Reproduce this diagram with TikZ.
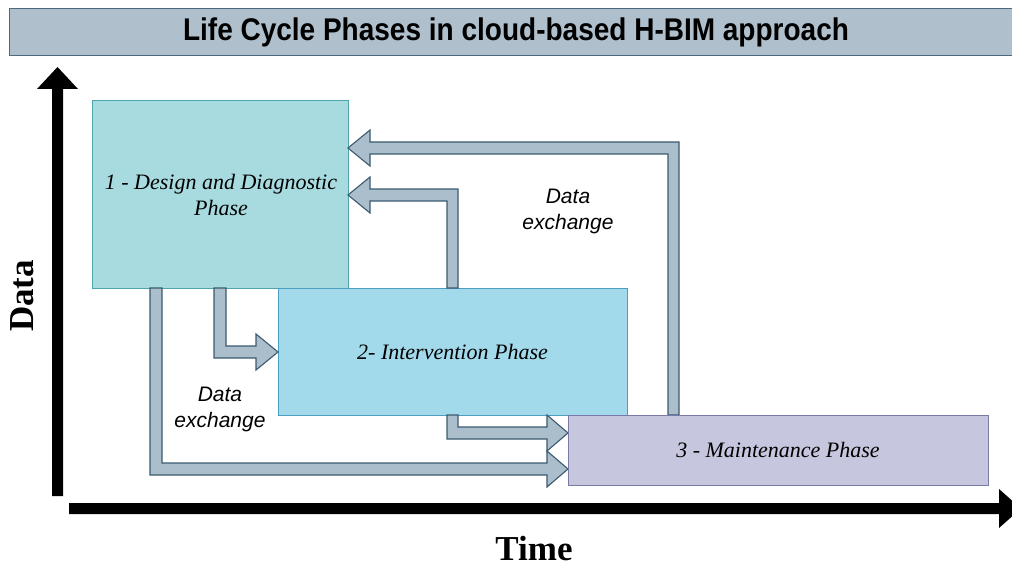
\documentclass[tikz,border=0pt]{standalone}
\usepackage{fontspec}
\setmainfont{Liberation Serif}
\setsansfont{Liberation Sans}
\definecolor{titlefill}{HTML}{AFC0CC}
\definecolor{titledraw}{HTML}{4A6A80}
\definecolor{boxAfill}{HTML}{A8DBDF}
\definecolor{boxAdraw}{HTML}{4FA5AE}
\definecolor{boxBfill}{HTML}{A2DAEB}
\definecolor{boxBdraw}{HTML}{4B9EC0}
\definecolor{boxCfill}{HTML}{C6C6DE}
\definecolor{boxCdraw}{HTML}{7A7AA8}
\definecolor{arrfill}{HTML}{ABBECB}
\definecolor{arrdraw}{HTML}{3C5A70}
\tikzset{
  phasebox/.style={draw, line width=1pt, minimum width=#1, inner sep=0pt, align=center,
    font=\fontsize{22}{26}\selectfont\itshape},
  blockarrow/.style={fill=arrfill, draw=arrdraw, line width=1.1pt, line join=miter},
  exlabel/.style={align=center, font=\sffamily\itshape\fontsize{21}{26}\selectfont},
  axislabel/.style={font=\bfseries\fontsize{35}{40}\selectfont},
}
\begin{document}
\begin{tikzpicture}[x=1pt, y=-1pt]
\useasboundingbox (0,0) rectangle (1012,567);
\clip (0,0) rectangle (1012,567);
% title
\node[draw=titledraw, fill=titlefill, line width=1pt, minimum width=1016pt, minimum height=47pt, inner sep=0pt,
      anchor=north west] (title) at (9,8) {};
\node[font=\sffamily\bfseries\fontsize{28}{32}\selectfont] (titletext) at (516,32.5) {\scalebox{1}[1.12]{Life Cycle Phases in cloud-based H-BIM approach}};
% axes
\fill (52,496) -- (52,89) -- (37,89) -- (57.5,67) -- (78,89) -- (63,89) -- (63,496) -- cycle;
\fill (69,503) -- (999,503) -- (999,489) -- (1021,508.5) -- (999,528) -- (999,514) -- (69,514) -- cycle;
\node[axislabel, rotate=90] (ylab) at (22,296) {Data};
\node[axislabel] (xlab) at (534,549) {Time};
% phase boxes
\node[phasebox=256pt, minimum height=187pt, fill=boxAfill, draw=boxAdraw] (b1) at (220,194.5) {};
\node[font=\fontsize{22}{26}\selectfont\itshape, align=center] (t1) at (221,195) {1 - Design and Diagnostic\\Phase};
\node[phasebox=349pt, minimum height=127pt, fill=boxBfill, draw=boxBdraw] (b2) at (452.5,351.5) {2- Intervention Phase};
% block arrows
% 3 -> 1 (top)
\draw[blockarrow] (668,415) -- (668,154) -- (370,154) -- (370,166) -- (348,148) -- (370,130) -- (370,142) -- (679,142) -- (679,415) -- cycle;
% 2 -> 1
\draw[blockarrow] (447,288) -- (447,201) -- (370,201) -- (370,213) -- (348,195) -- (370,177) -- (370,189) -- (458,189) -- (458,288) -- cycle;
% 1 -> 2
\draw[blockarrow] (214,288) -- (214,358) -- (256,358) -- (256,370) -- (278,352) -- (256,334) -- (256,346) -- (226,346) -- (226,288) -- cycle;
% 1 -> 3
\draw[blockarrow] (150,288) -- (150,475) -- (547,475) -- (547,487) -- (568,469) -- (547,451) -- (547,463) -- (162,463) -- (162,288) -- cycle;
% 2 -> 3
\draw[blockarrow] (447,415) -- (447,439) -- (547,439) -- (547,451) -- (568,433) -- (547,415) -- (547,427) -- (458,427) -- (458,415) -- cycle;
\node[phasebox=420pt, minimum height=70pt, fill=boxCfill, draw=boxCdraw] (b3) at (778,450) {3 - Maintenance Phase};
% data exchange labels
\node[exlabel] (ex1) at (568,211) {Data\\exchange};
\node[exlabel] (ex2) at (220,409) {Data\\exchange};
\end{tikzpicture}
\end{document}
